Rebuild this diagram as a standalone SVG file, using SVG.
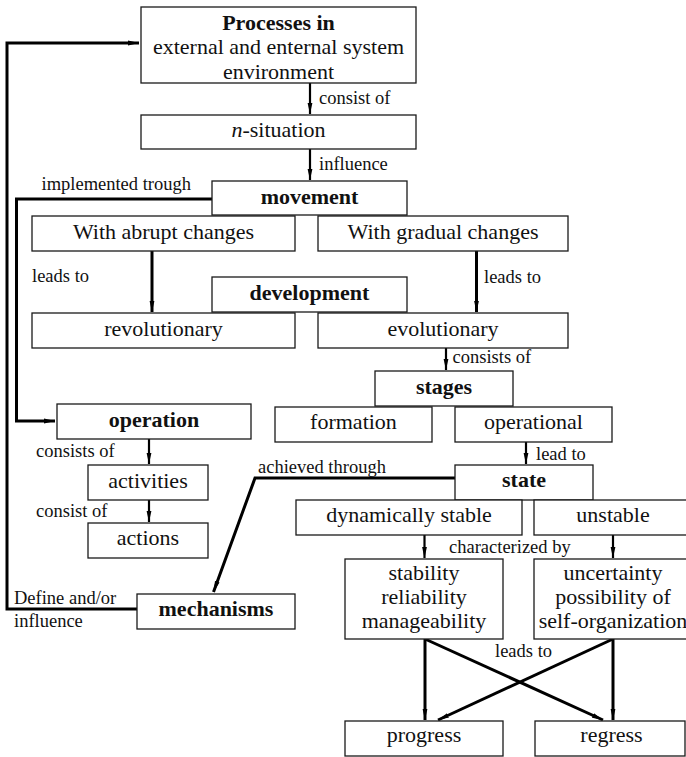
<svg xmlns="http://www.w3.org/2000/svg" width="686" height="757" viewBox="0 0 686 757">
  <style>
    .box { fill: #ffffff; stroke: #1a1a1a; stroke-width: 1.3; }
    .t { font-family: "Liberation Serif", "DejaVu Serif", serif; font-size: 22px; fill: #111; text-anchor: middle; }
    .b { font-weight: bold; }
    .lbl { font-family: "Liberation Serif", "DejaVu Serif", serif; font-size: 18.5px; fill: #111; }
    .ln { fill: none; stroke: #000; stroke-width: 2.2; }
    .thick { fill: none; stroke: #000; stroke-width: 3; stroke-linejoin: miter; }
  </style>
  <defs>
    <marker id="arr" markerUnits="userSpaceOnUse" markerWidth="12" markerHeight="6" refX="11" refY="3" orient="auto">
      <path d="M0,0.6 L11,3 L0,5.4 Z" fill="#000"/>
    </marker>
  </defs>

  <!-- connectors -->
  <g id="connectors">
    <!-- feedback loop: mechanisms back to processes -->
    <polyline class="thick" points="137,609 7,609 7,43 139,43" marker-end="url(#arr)"/>
    <!-- movement implemented through operation -->
    <polyline class="thick" points="212,199 16.5,199 16.5,421 55,421" marker-end="url(#arr)"/>
    <!-- state achieved through mechanisms -->
    <polyline class="thick" points="455,478 255,478 213.5,592" marker-end="url(#arr)"/>

    <line class="ln" x1="310" y1="83" x2="310" y2="114" marker-end="url(#arr)"/>
    <line class="ln" x1="310" y1="149" x2="310" y2="180" marker-end="url(#arr)"/>
    <line class="thick" x1="152" y1="251" x2="152" y2="312" marker-end="url(#arr)"/>
    <line class="thick" x1="476.5" y1="251" x2="476.5" y2="312" marker-end="url(#arr)"/>
    <line class="ln" x1="446" y1="348" x2="446" y2="370" marker-end="url(#arr)"/>
    <line class="ln" x1="149" y1="439" x2="149" y2="464" marker-end="url(#arr)"/>
    <line class="ln" x1="149" y1="500" x2="149" y2="522" marker-end="url(#arr)"/>
    <line class="ln" x1="526" y1="442" x2="526" y2="464" marker-end="url(#arr)"/>
    <line class="ln" x1="424.5" y1="535" x2="424.5" y2="558" marker-end="url(#arr)"/>
    <line class="ln" x1="613" y1="535" x2="613" y2="558" marker-end="url(#arr)"/>

    <line class="thick" x1="425" y1="639" x2="425" y2="720" marker-end="url(#arr)"/>
    <line class="thick" x1="425" y1="639" x2="603" y2="720" marker-end="url(#arr)"/>
    <line class="thick" x1="613" y1="639" x2="613" y2="720" marker-end="url(#arr)"/>
    <line class="thick" x1="613" y1="639" x2="438" y2="720" marker-end="url(#arr)"/>

    <!-- connector labels -->
    <text class="lbl" x="319" y="104">consist of</text>
    <text class="lbl" x="319" y="170">influence</text>
    <text class="lbl" x="41.5" y="190">implemented trough</text>
    <text class="lbl" x="32" y="282">leads to</text>
    <text class="lbl" x="484" y="283">leads to</text>
    <text class="lbl" x="452.5" y="363">consists of</text>
    <text class="lbl" x="36" y="457">consists of</text>
    <text class="lbl" x="36" y="517">consist of</text>
    <text class="lbl" x="536" y="460">lead to</text>
    <text class="lbl" x="258" y="473">achieved through</text>
    <text class="lbl" x="449" y="553">characterized by</text>
    <text class="lbl" x="14" y="604">Define and/or</text>
    <text class="lbl" x="14" y="627">influence</text>
    <text class="lbl" x="495" y="657">leads to</text>
  </g>

  <g id="processes">
    <rect class="box" x="141" y="7" width="275" height="76"/>
    <text class="t b" x="278.5" y="30">Processes in</text>
    <text class="t" x="278.5" y="54">external and enternal system</text>
    <text class="t" x="278.5" y="79">environment</text>
  </g>
  <g id="n-situation">
    <rect class="box" x="141" y="115" width="275" height="34"/>
    <text class="t" x="278.5" y="137"><tspan font-style="italic">n</tspan>-situation</text>
  </g>
  <g id="movement">
    <rect class="box" x="212" y="181" width="195" height="34"/>
    <text class="t b" x="309.5" y="204">movement</text>
  </g>
  <g id="abrupt">
    <rect class="box" x="32" y="216" width="263" height="35"/>
    <text class="t" x="163.5" y="239">With abrupt changes</text>
  </g>
  <g id="gradual">
    <rect class="box" x="318" y="216" width="250" height="35"/>
    <text class="t" x="443" y="239">With gradual changes</text>
  </g>
  <g id="development">
    <rect class="box" x="212" y="277" width="195" height="35"/>
    <text class="t b" x="309.5" y="300">development</text>
  </g>
  <g id="revolutionary">
    <rect class="box" x="32" y="313" width="263" height="35"/>
    <text class="t" x="163.5" y="336">revolutionary</text>
  </g>
  <g id="evolutionary">
    <rect class="box" x="318" y="313" width="250" height="35"/>
    <text class="t" x="443" y="336">evolutionary</text>
  </g>
  <g id="stages">
    <rect class="box" x="375" y="371" width="138" height="35"/>
    <text class="t b" x="444" y="394">stages</text>
  </g>
  <g id="formation">
    <rect class="box" x="275" y="407" width="157" height="35"/>
    <text class="t" x="353.5" y="429">formation</text>
  </g>
  <g id="operational">
    <rect class="box" x="455" y="407" width="157" height="35"/>
    <text class="t" x="533.5" y="429">operational</text>
  </g>
  <g id="operation">
    <rect class="box" x="57" y="404" width="194" height="35"/>
    <text class="t b" x="154" y="427">operation</text>
  </g>
  <g id="activities">
    <rect class="box" x="88" y="465" width="120" height="35"/>
    <text class="t" x="148" y="488">activities</text>
  </g>
  <g id="actions">
    <rect class="box" x="88" y="523" width="120" height="35"/>
    <text class="t" x="148" y="545">actions</text>
  </g>
  <g id="state">
    <rect class="box" x="455" y="465" width="138" height="35"/>
    <text class="t b" x="524" y="487">state</text>
  </g>
  <g id="dynamically-stable">
    <rect class="box" x="296" y="500" width="226" height="35"/>
    <text class="t" x="409" y="522">dynamically stable</text>
  </g>
  <g id="unstable">
    <rect class="box" x="534" y="500" width="160" height="35"/>
    <text class="t" x="613" y="522">unstable</text>
  </g>
  <g id="mechanisms">
    <rect class="box" x="137" y="594" width="158" height="35"/>
    <text class="t b" x="216" y="616">mechanisms</text>
  </g>
  <g id="stability">
    <rect class="box" x="345" y="559" width="158" height="80"/>
    <text class="t" x="424" y="580">stability</text>
    <text class="t" x="424" y="604">reliability</text>
    <text class="t" x="424" y="628">manageability</text>
  </g>
  <g id="uncertainty">
    <rect class="box" x="534" y="559" width="160" height="80"/>
    <text class="t" x="613" y="580">uncertainty</text>
    <text class="t" x="613" y="604">possibility of</text>
    <text class="t" x="613" y="628">self-organization</text>
  </g>
  <g id="progress">
    <rect class="box" x="345" y="721" width="158" height="35"/>
    <text class="t" x="424" y="742">progress</text>
  </g>
  <g id="regress">
    <rect class="box" x="535" y="721" width="150" height="35"/>
    <text class="t" x="611.5" y="742">regress</text>
  </g>
</svg>
